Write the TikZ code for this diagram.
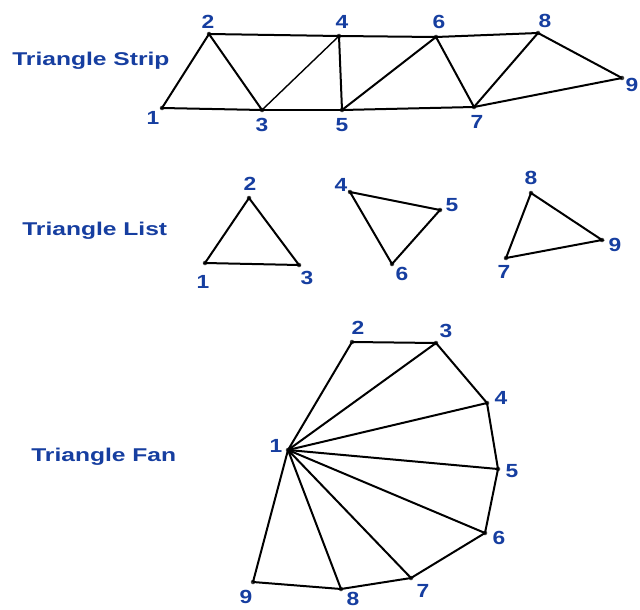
\documentclass[tikz,border=0pt]{standalone}
\usepackage{fontspec}
\setmainfont{Liberation Sans}
\definecolor{dxblue}{RGB}{22,62,160}
\begin{document}
\begin{tikzpicture}[x=1pt,y=-1pt,
  vtx/.style={circle,fill=black!75,inner sep=0pt,minimum size=4.5pt},
  num/.style={text=dxblue,font=\fontsize{19}{21}\selectfont\bfseries,inner sep=0pt,xscale=1.2},
  ttl/.style={text=dxblue,font=\fontsize{18.5}{20}\selectfont\bfseries,inner sep=0pt,anchor=base west,xscale=1.33},
  edge/.style={line width=2pt,black},
  thinedge/.style={line width=1.4pt,black}]
\useasboundingbox (0,0) rectangle (640,610);
\fill[white] (0,0) rectangle (640,610);

% ---------- Triangle Strip ----------
\node[ttl] (tstrip) at (12,66) {Triangle Strip};
\node[vtx] (s1) at (162,108) {};
\node[vtx] (s2) at (209,34) {};
\node[vtx] (s3) at (262,110) {};
\node[vtx] (s4) at (339,36) {};
\node[vtx] (s5) at (342,110) {};
\node[vtx] (s6) at (436,37) {};
\node[vtx] (s7) at (474,107) {};
\node[vtx] (s8) at (538,33) {};
\node[vtx] (s9) at (622,78) {};
\draw[edge] (s1.center) -- (s2.center) -- (s3.center) -- cycle;
\draw[edge] (s2.center) -- (s4.center);
\draw[thinedge] (s3.center) -- (s4.center);
\draw[edge] (s3.center) -- (s5.center);
\draw[edge] (s4.center) -- (s5.center);
\draw[edge] (s4.center) -- (s6.center);
\draw[edge] (s5.center) -- (s6.center);
\draw[edge] (s5.center) -- (s7.center);
\draw[edge] (s6.center) -- (s7.center);
\draw[edge] (s6.center) -- (s8.center);
\draw[edge] (s7.center) -- (s8.center);
\draw[edge] (s8.center) -- (s9.center);
\draw[edge] (s7.center) -- (s9.center);
\node[num] (ls1) at (153,118) {1};
\node[num] (ls2) at (208,22) {2};
\node[num] (ls3) at (262,125) {3};
\node[num] (ls4) at (342,22) {4};
\node[num] (ls5) at (342,125) {5};
\node[num] (ls6) at (439,22) {6};
\node[num] (ls7) at (477,122) {7};
\node[num] (ls8) at (545,21) {8};
\node[num] (ls9) at (632,85) {9};

% ---------- Triangle List ----------
\node[ttl] (tlist) at (22,235) {Triangle List};
\node[vtx] (l1) at (205,263) {};
\node[vtx] (l2) at (249,198) {};
\node[vtx] (l3) at (299,265) {};
\node[vtx] (l4) at (350,192) {};
\node[vtx] (l5) at (440,210) {};
\node[vtx] (l6) at (392,264) {};
\node[vtx] (l7) at (506,258) {};
\node[vtx] (l8) at (531,193) {};
\node[vtx] (l9) at (602,240) {};
\draw[edge] (l1.center) -- (l2.center) -- (l3.center) -- cycle;
\draw[edge] (l4.center) -- (l5.center) -- (l6.center) -- cycle;
\draw[edge] (l7.center) -- (l8.center) -- (l9.center) -- cycle;
\node[num] (ll1) at (203,282) {1};
\node[num] (ll2) at (250,184) {2};
\node[num] (ll3) at (307,278) {3};
\node[num] (ll4) at (341,185) {4};
\node[num] (ll5) at (452,205) {5};
\node[num] (ll6) at (402,274) {6};
\node[num] (ll7) at (504,272) {7};
\node[num] (ll8) at (531,178) {8};
\node[num] (ll9) at (615,245) {9};

% ---------- Triangle Fan ----------
\node[ttl] (tfan) at (31,461) {Triangle Fan};
\node[vtx] (f1) at (288,450) {};
\node[vtx] (f2) at (352,342) {};
\node[vtx] (f3) at (436,343) {};
\node[vtx] (f4) at (487,403) {};
\node[vtx] (f5) at (498,469) {};
\node[vtx] (f6) at (485,533) {};
\node[vtx] (f7) at (411,578) {};
\node[vtx] (f8) at (341,589) {};
\node[vtx] (f9) at (253,582) {};
\draw[edge] (f2.center) -- (f3.center) -- (f4.center) -- (f5.center) -- (f6.center)
  -- (f7.center) -- (f8.center) -- (f9.center);
\foreach \k in {2,...,9} {\draw[edge] (f1.center) -- (f\k.center);}
\node[num] (lf1) at (276,446) {1};
\node[num] (lf2) at (358,328) {2};
\node[num] (lf3) at (446,331) {3};
\node[num] (lf4) at (501,398) {4};
\node[num] (lf5) at (512,471) {5};
\node[num] (lf6) at (499,538) {6};
\node[num] (lf7) at (423,591) {7};
\node[num] (lf8) at (353,599) {8};
\node[num] (lf9) at (246,597) {9};
\end{tikzpicture}
\end{document}
